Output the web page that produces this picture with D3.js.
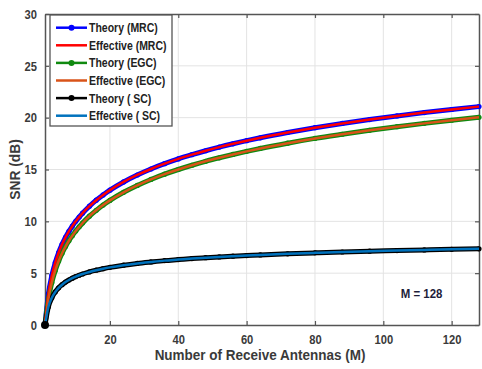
<!DOCTYPE html>
<html><head><meta charset="utf-8">
<script src="https://cdn.jsdelivr.net/npm/d3@7"></script>
<style>
body{margin:0;background:#fff;}
svg{display:block;font-family:"Liberation Sans",Arial,sans-serif;}
</style></head>
<body><svg id="c" width="482" height="369"></svg>
<script>
// ---- data ----
const antennas = [1,2,3,4,5,6,7,8,9,10,11,12,14,16,18,20,24,28,32,36,40,44,48,52,56,60,64,72,80,88,96,104,112,120,128];
const theoryMRC = [0,3.01,4.77,6.02,6.99,7.78,8.45,9.03,9.54,10.00,10.41,10.79,11.46,12.04,12.55,13.01,13.80,14.47,15.05,15.56,16.02,16.43,16.81,17.16,17.48,17.78,18.06,18.57,19.03,19.44,19.82,20.17,20.49,20.79,21.07];
const effectiveMRC = [0,3.01,4.77,6.02,6.99,7.78,8.45,9.03,9.54,10.00,10.41,10.79,11.46,12.04,12.55,13.01,13.80,14.47,15.05,15.56,16.02,16.43,16.81,17.16,17.48,17.78,18.06,18.57,19.03,19.44,19.82,20.17,20.49,20.79,21.07];
const theoryEGC = [0,2.52,4.10,5.26,6.17,6.93,7.57,8.13,8.62,9.07,9.47,9.84,10.50,11.06,11.57,12.02,12.80,13.46,14.04,14.55,15.00,15.41,15.79,16.13,16.45,16.75,17.03,17.54,18.00,18.40,18.78,19.13,19.45,19.75,20.03];
const effectiveEGC = [0,2.52,4.10,5.26,6.17,6.93,7.57,8.13,8.62,9.07,9.47,9.84,10.50,11.06,11.57,12.02,12.80,13.46,14.04,14.55,15.00,15.41,15.79,16.13,16.45,16.75,17.03,17.54,18.00,18.40,18.78,19.13,19.45,19.75,20.03];
const theorySC = [0,1.76,2.63,3.19,3.59,3.89,4.14,4.34,4.52,4.67,4.80,4.92,5.12,5.29,5.43,5.56,5.77,5.94,6.08,6.21,6.31,6.41,6.49,6.57,6.64,6.70,6.76,6.87,6.96,7.04,7.12,7.18,7.24,7.30,7.35];
const effectiveSC = [0,1.76,2.63,3.19,3.59,3.89,4.14,4.34,4.52,4.67,4.80,4.92,5.12,5.29,5.43,5.56,5.77,5.94,6.08,6.21,6.31,6.41,6.49,6.57,6.64,6.70,6.76,6.87,6.96,7.04,7.12,7.18,7.24,7.30,7.35];
const xTicks = [20,40,60,80,100,120];
const yTicks = [0,5,10,15,20,25,30];
const legendLabels = ["Theory (MRC)","Effective (MRC)","Theory (EGC)","Effective (EGC)","Theory ( SC)","Effective ( SC)"];
const annotation = "M = 128";

// ---- layout ----
const svg = d3.select("#c");
const L = 45, R = 479, T = 14, B = 325;
const x = d3.scaleLinear().domain([1,128]).range([L,R]);
const y = d3.scaleLinear().domain([0,30]).range([B,T]);
const textCol = "#3a3a3a";
const SX = 0.86; // narrow font look

// grid
svg.append("g").selectAll("line").data(xTicks).join("line")
  .attr("x1",d=>x(d)).attr("x2",d=>x(d)).attr("y1",T).attr("y2",B)
  .attr("stroke","#e3e3e3").attr("stroke-width",1);
svg.append("g").selectAll("line").data(yTicks.filter(d=>d>0&&d<30)).join("line")
  .attr("x1",L).attr("x2",R).attr("y1",d=>y(d)).attr("y2",d=>y(d))
  .attr("stroke","#e3e3e3").attr("stroke-width",1);

// axes
const axB = d3.axisBottom(x).tickValues(xTicks).tickSizeInner(-4).tickSizeOuter(0).tickPadding(10);
const axL = d3.axisLeft(y).tickValues(yTicks).tickSizeInner(-4).tickSizeOuter(0).tickPadding(8);
const axT = d3.axisTop(x).tickValues(xTicks).tickSizeInner(-4).tickSizeOuter(0).tickFormat("");
const axR = d3.axisRight(y).tickValues(yTicks).tickSizeInner(-4).tickSizeOuter(0).tickFormat("");
function style(g){
  g.selectAll("path").attr("stroke","#555").attr("stroke-width",1.5);
  g.selectAll("line").attr("stroke","#555").attr("stroke-width",1.2);
  g.selectAll("text").attr("fill",textCol).attr("font-size","13px").attr("font-weight","bold")
   .attr("font-family","'Liberation Sans',Arial,sans-serif");
}
svg.append("g").attr("transform",`translate(0,${B})`).call(axB).call(style)
  .selectAll("text").attr("transform",`scale(${SX},1)`);
const gl = svg.append("g").attr("transform",`translate(${L},0)`).call(axL).call(style);
gl.selectAll("text").attr("transform",`translate(-8,0) scale(${SX},1) translate(8,0)`);
svg.append("g").attr("transform",`translate(0,${T})`).call(axT).call(style);
svg.append("g").attr("transform",`translate(${R},0)`).call(axR).call(style);

// series
const series = [
  {vals:theoryMRC, color:"#0000ff", marker:true},
  {vals:effectiveMRC, color:"#ff0000", marker:false},
  {vals:theoryEGC, color:"#108a10", marker:true},
  {vals:effectiveEGC, color:"#d95319", marker:false},
  {vals:theorySC, color:"#000000", marker:true},
  {vals:effectiveSC, color:"#0072bd", marker:false}
];
const line = d3.line().x((d,i)=>x(antennas[i])).y(d=>y(d)).curve(d3.curveMonotoneX);
const gp = svg.append("g");
[0,2,4].forEach(k=>{
  const s = series[k];
  gp.append("path").attr("d",line(s.vals)).attr("fill","none")
    .attr("stroke",s.color).attr("stroke-width",5).attr("stroke-linejoin","round");
  gp.append("g").selectAll("circle").data(s.vals).join("circle")
    .attr("cx",(d,i)=>x(antennas[i])).attr("cy",d=>y(d)).attr("r",2.6).attr("fill",s.color);
});
[1,3,5].forEach(k=>{
  const s = series[k];
  gp.append("path").attr("d",line(s.vals)).attr("fill","none")
    .attr("stroke",s.color).attr("stroke-width",2.5);
});
gp.append("circle").attr("cx",x(antennas[0])).attr("cy",y(theorySC[0])).attr("r",4).attr("fill","#000");

// axis titles
const cx = (L+R)/2-2;
svg.append("text").attr("transform",`translate(${cx},360) scale(0.9,1)`).attr("text-anchor","middle")
  .attr("font-size","15px").attr("font-weight","bold").attr("fill",textCol).text("Number of Receive Antennas (M)");
svg.append("text").attr("transform",`translate(20,${(T+B)/2}) rotate(-90) scale(0.92,1)`).attr("text-anchor","middle")
  .attr("font-size","15px").attr("font-weight","bold").attr("fill",textCol).text("SNR (dB)");

// annotation
svg.append("text").attr("transform",`translate(${x(111.2)},${y(2.6)}) scale(0.88,1)`).attr("text-anchor","middle")
  .attr("font-size","13px").attr("font-weight","bold").attr("fill","#1e1e3a").text(annotation);

// legend
const lg = svg.append("g");
lg.append("rect").attr("x",50).attr("y",15).attr("width",122).attr("height",111)
  .attr("fill","#fff").attr("stroke","#555").attr("stroke-width",1.3);
legendLabels.forEach((lab,i)=>{
  const yy = 27.7 + i*17.6;
  const s = series[i];
  lg.append("line").attr("x1",56).attr("x2",87).attr("y1",yy).attr("y2",yy)
    .attr("stroke",s.color).attr("stroke-width",2.5);
  if(i%2===0) lg.append("circle").attr("cx",71.5).attr("cy",yy).attr("r",3).attr("fill",s.color);
  lg.append("text").attr("transform",`translate(89,${yy+4.5}) scale(0.84,1)`).attr("font-size","12.5px").attr("font-weight","bold")
    .attr("fill","#222").text(lab);
});
</script></body></html>
